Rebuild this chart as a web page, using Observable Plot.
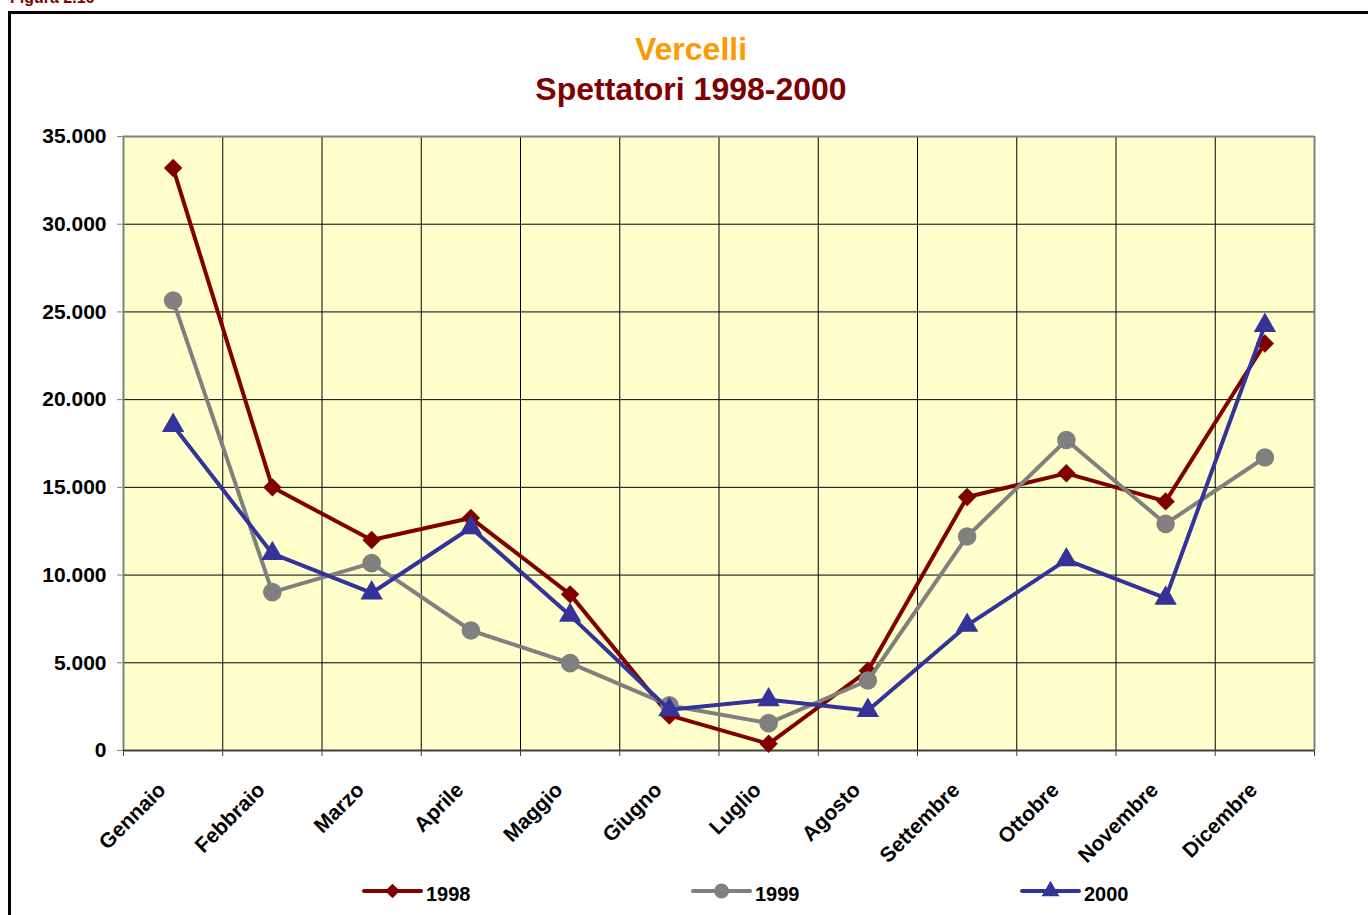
<!DOCTYPE html>
<html>
<head>
<meta charset="utf-8">
<script src="https://cdn.jsdelivr.net/npm/d3@7"></script>
<script src="https://cdn.jsdelivr.net/npm/@observablehq/plot@0.6"></script>
<style>
html, body { margin: 0; padding: 0; background: #fff; width: 1368px; height: 915px; overflow: hidden; }
body { position: relative; font-family: "Liberation Sans", Arial, sans-serif; }
#frame { position: absolute; left: 8px; top: 11px; width: 1400px; height: 1000px; border: 3px solid #000; box-sizing: border-box; pointer-events: none; }
#fig { position: absolute; left: 10px; top: -10px; font-size: 16px; line-height: 16px; font-weight: bold; color: #800000; }
#header { position: relative; height: 110px; padding-top: 29px; padding-left: 14px; box-sizing: border-box; text-align: center; font-weight: bold; font-size: 32px; line-height: 40px; }
#header .t1 { color: #FF9900; }
#header .t2 { color: #800000; }
#chart svg { display: block; }
#legend { position: relative; height: 45px; }
#legend svg { display: block; }
</style>
</head>
<body>
<div id="fig">Figura 2.16</div>
<div id="frame"></div>
<div id="header"><div class="t1">Vercelli</div><div class="t2">Spettatori 1998-2000</div></div>
<div id="chart"></div>
<div id="legend"></div>
<script>
// ---- data ----
const months = ["Gennaio", "Febbraio", "Marzo", "Aprile", "Maggio", "Giugno", "Luglio", "Agosto", "Settembre", "Ottobre", "Novembre", "Dicembre"];
const years = ["1998", "1999", "2000"];
const v1998 = [33200, 15000, 12000, 13250, 8900, 2000, 380, 4550, 14450, 15800, 14200, 23200];
const v1999 = [25650, 9030, 10680, 6840, 4980, 2570, 1560, 3990, 12200, 17700, 12920, 16700];
const v2000 = [18530, 11220, 8980, 12700, 7700, 2320, 2890, 2280, 7130, 10870, 8680, 24230];
const yTicks = [0, 5000, 10000, 15000, 20000, 25000, 30000, 35000];

// ---- styling ----
const colors = {"1998": "#800000", "1999": "#808080", "2000": "#333399"};
const symbols = {"1998": "diamond2", "1999": "circle", "2000": "triangle"};
const radii = {"1998": 8.3, "1999": 9.3, "2000": 8.3};
const font = "'Liberation Sans', Arial, sans-serif";

const valuesByYear = {"1998": v1998, "1999": v1999, "2000": v2000};
const rows = years.flatMap(y => valuesByYear[y].map((v, i) => ({year: y, i, month: months[i], value: v})));
const bounds = months.map((m, i) => i - 0.5).concat([months.length - 0.5]);
const inner = bounds.slice(1, -1);
const fmt = d3.formatLocale({decimal: ",", thousands: ".", grouping: [3], currency: ["€", ""]}).format(",d");

const seriesMarks = years.flatMap(y => {
  const data = rows.filter(r => r.year === y);
  return [
    Plot.line(data, {x: "i", y: "value", stroke: colors[y], strokeWidth: 4, strokeLinejoin: "miter"}),
    Plot.dot(data, {x: "i", y: "value", symbol: symbols[y], r: radii[y], fill: colors[y], stroke: "none"})
  ];
});

const chart = Plot.plot({
  width: 1368,
  height: 760,
  marginLeft: 123,
  marginRight: 54,
  marginTop: 26,
  marginBottom: 120,
  style: {fontFamily: font, fontSize: "21px", fontWeight: "bold", color: "#000", background: "transparent", overflow: "visible"},
  x: {type: "linear", domain: [-0.5, months.length - 0.5], axis: null, label: null},
  y: {domain: [0, 35000], axis: null, label: null},
  marks: [
    Plot.frame({fill: "#FFFFCC", stroke: null}),
    Plot.ruleY(yTicks.slice(1, -1), {stroke: "#000", strokeWidth: 1}),
    Plot.ruleX(inner, {stroke: "#000", strokeWidth: 1}),
    Plot.ruleY([yTicks[yTicks.length - 1]], {stroke: "#808080", strokeWidth: 2}),
    Plot.ruleX([bounds[bounds.length - 1]], {stroke: "#808080", strokeWidth: 2}),
    Plot.axisY({ticks: yTicks, tickSize: 6, tickPadding: 11, tickFormat: fmt, label: null, stroke: "#808080", fill: "#000", fontSize: 21, fontWeight: "bold"}),
    Plot.axisX({ticks: bounds, tickSize: 6, tickFormat: () => "", label: null, stroke: "#404040"}),
    Plot.ruleX([bounds[0]], {stroke: "#808080", strokeWidth: 2}),
    Plot.ruleY([0], {stroke: "#404040", strokeWidth: 2}),
    Plot.text(months, {x: (d, i) => i, frameAnchor: "bottom", rotate: -45, textAnchor: "end", lineAnchor: "middle", dx: -11, dy: 36, fontSize: 21, fontWeight: "bold", fill: "#000"}),
    ...seriesMarks
  ]
});
document.getElementById("chart").appendChild(chart);

// ---- legend ----
const legendLayout = {"1998": {x1: 364, x2: 421, tx: 426}, "1999": {x1: 693, x2: 750, tx: 755}, "2000": {x1: 1022, x2: 1079, tx: 1084}};
const d3Symbols = {"diamond2": d3.symbolDiamond2, "circle": d3.symbolCircle, "triangle": d3.symbolTriangle};
const lsvg = d3.select("#legend").append("svg").attr("width", 1368).attr("height", 45);
years.forEach(y => {
  const L = legendLayout[y];
  const g = lsvg.append("g");
  g.append("line").attr("x1", L.x1).attr("x2", L.x2).attr("y1", 21).attr("y2", 21)
    .attr("stroke", colors[y]).attr("stroke-width", 4).attr("stroke-linecap", "round");
  const r = radii[y] * 0.8;
  g.append("path").attr("d", d3.symbol(d3Symbols[symbols[y]], Math.PI * r * r)())
    .attr("transform", `translate(${(L.x1 + L.x2) / 2},21)`).attr("fill", colors[y]);
  g.append("text").attr("x", L.tx).attr("y", 31).text(y)
    .attr("font-family", font).attr("font-size", 20).attr("font-weight", "bold").attr("fill", "#000");
});
</script>
</body>
</html>
